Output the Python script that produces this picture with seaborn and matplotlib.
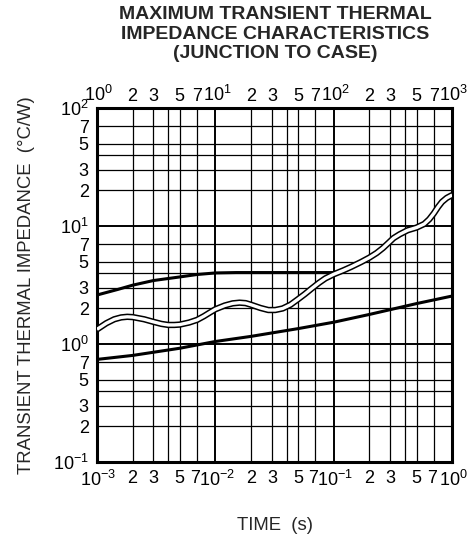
import matplotlib
matplotlib.use('Agg')
import matplotlib.pyplot as plt
import matplotlib.transforms as mtrans
import seaborn as sns
import pandas as pd
from matplotlib.ticker import FixedLocator, FixedFormatter

# data
upper_t = [1e-3, 1.5e-3, 2e-3, 3e-3, 5e-3, 7e-3, 1e-2, 1.5e-2, 2e-2, 5e-2, 1e-1]
upper_z = [2.6, 2.9, 3.15, 3.45, 3.7, 3.88, 4.0, 4.03, 4.03, 4.03, 4.03]

lower_t = [1e-3, 2e-3, 5e-3, 1e-2, 2e-2, 5e-2, 1e-1, 2e-1, 5e-1, 1.0]
lower_z = [0.74, 0.80, 0.92, 1.05, 1.16, 1.35, 1.53, 1.78, 2.2, 2.55]

wave_t = [1.0e-3, 1.2e-3, 1.4e-3, 1.6e-3, 1.8e-3, 2.0e-3, 2.5e-3, 3.0e-3, 3.5e-3, 4.0e-3,
          4.5e-3, 5.0e-3, 6.0e-3, 7.0e-3, 8.0e-3, 9.0e-3, 1.0e-2, 1.2e-2, 1.4e-2, 1.6e-2,
          1.8e-2, 2.0e-2, 2.4e-2, 2.8e-2, 3.2e-2, 3.7e-2, 4.3e-2, 5.0e-2, 5.7e-2, 6.5e-2,
          7.5e-2, 8.5e-2, 0.1, 0.12, 0.14, 0.17, 0.2, 0.23, 0.26, 0.29,
          0.32, 0.36, 0.42, 0.5, 0.58, 0.64, 0.7, 0.76, 0.82, 0.9, 1.0]
wave_z = [1.33, 1.50, 1.62, 1.68, 1.70, 1.69, 1.62, 1.54, 1.48, 1.45,
          1.45, 1.46, 1.52, 1.60, 1.72, 1.85, 1.97, 2.12, 2.21, 2.24,
          2.22, 2.15, 2.02, 1.94, 1.94, 2.00, 2.15, 2.40, 2.65, 2.95,
          3.30, 3.60, 3.90, 4.2, 4.5, 4.95, 5.4, 5.9, 6.5, 7.2,
          7.9, 8.5, 9.2, 9.7, 10.4, 11.4, 12.8, 14.5, 16.0, 17.3, 18.3]

mult = [2, 3, 4, 5, 7]
mult_lbl = ['2', '3', '', '5', '7']

x_decades = [-3, -2, -1, 0]
top_decades = [0, 1, 2, 3]
y_decades = [-1, 0, 1, 2]

sns.set_style('white')
plt.rcParams['font.family'] = ['Liberation Sans', 'DejaVu Sans']
plt.rcParams['mathtext.fontset'] = 'custom'
plt.rcParams['mathtext.rm'] = 'Liberation Sans'
plt.rcParams['mathtext.it'] = 'Liberation Sans'

fig = plt.figure(figsize=(4.74, 5.37), dpi=100)
ax = fig.add_axes([0.2046, 0.1397, 0.7494, 0.6592])


def decade_ticks(decades):
    major = [10.0 ** d for d in decades]
    major_lbl = ['$10^{%d}$' % d for d in decades]
    minor, minor_lbl = [], []
    for d in decades[:-1]:
        for m, l in zip(mult, mult_lbl):
            minor.append(m * 10.0 ** d)
            minor_lbl.append(l)
    return major, major_lbl, minor, minor_lbl


def set_ticks(axis, decades):
    M, Ml, m, ml = decade_ticks(decades)
    axis.set_major_locator(FixedLocator(M))
    axis.set_major_formatter(FixedFormatter(Ml))
    axis.set_minor_locator(FixedLocator(m))
    axis.set_minor_formatter(FixedFormatter(ml))


def nudge(axis):
    # squeeze the "7" and "10^n" labels apart a little, as in the print
    left = mtrans.ScaledTranslation(-2 / 100, 0, fig.dpi_scale_trans)
    right = mtrans.ScaledTranslation(1.5 / 100, 0, fig.dpi_scale_trans)
    for t in axis.get_minor_ticks():
        if t.get_loc() is not None and round(t.get_loc() / 10 ** int(f'{t.get_loc():e}'.split('e')[1])) == 7:
            for lab in (t.label1, t.label2):
                lab.set_transform(lab.get_transform() + left)
    for t in axis.get_major_ticks():
        for lab in (t.label1, t.label2):
            lab.set_transform(lab.get_transform() + right)


ax.set_xscale('log')
ax.set_yscale('log')
ax.set_xlim(1e-3, 1.0)
ax.set_ylim(0.1, 100)
set_ticks(ax.xaxis, x_decades)
set_ticks(ax.yaxis, y_decades)

ax.grid(which='major', color='black', linewidth=1.4)
ax.grid(which='minor', color='black', linewidth=0.9)
ax.tick_params(which='both', length=0, labelsize=13, colors='black')
ax.tick_params(axis='x', which='both', pad=6)
ax.tick_params(axis='y', which='both', pad=6)

for s in ax.spines.values():
    s.set_linewidth(2.2)
    s.set_color('black')

upper = pd.DataFrame({'t': upper_t, 'z': upper_z})
lower = pd.DataFrame({'t': lower_t, 'z': lower_z})
wave = pd.DataFrame({'t': wave_t, 'z': wave_z})

sns.lineplot(data=upper, x='t', y='z', ax=ax, color='black', linewidth=2.2,
             estimator=None, sort=False, zorder=4)
sns.lineplot(data=lower, x='t', y='z', ax=ax, color='black', linewidth=2.2,
             estimator=None, sort=False, zorder=4)
sns.lineplot(data=wave, x='t', y='z', ax=ax, color='black', linewidth=4.6,
             estimator=None, sort=False, zorder=5, solid_capstyle='butt')
sns.lineplot(data=wave, x='t', y='z', ax=ax, color='white', linewidth=2.4,
             estimator=None, sort=False, zorder=6, solid_capstyle='butt')

ax.set_xlim(1e-3, 1.0)
ax.set_ylim(0.1, 100)
ax.set_xlabel('TIME  (s)', fontsize=13.3, labelpad=19)
ax.set_ylabel('TRANSIENT THERMAL IMPEDANCE  (°C/W)', fontsize=13.3, labelpad=13)

# top axis (time in ms)
top = ax.twiny()
top.set_xscale('log')
top.set_xlim(1, 1000)
set_ticks(top.xaxis, top_decades)
top.tick_params(which='both', length=0, labelsize=13, pad=2, colors='black')
for s in top.spines.values():
    s.set_visible(False)

nudge(ax.xaxis)
nudge(top.xaxis)

fig.text(0.58, 0.988, 'MAXIMUM TRANSIENT THERMAL\nIMPEDANCE CHARACTERISTICS\n(JUNCTION TO CASE)',
         ha='center', va='top', fontsize=14, fontweight='bold', linespacing=1.18)

fig.savefig('out.png', dpi=100)
